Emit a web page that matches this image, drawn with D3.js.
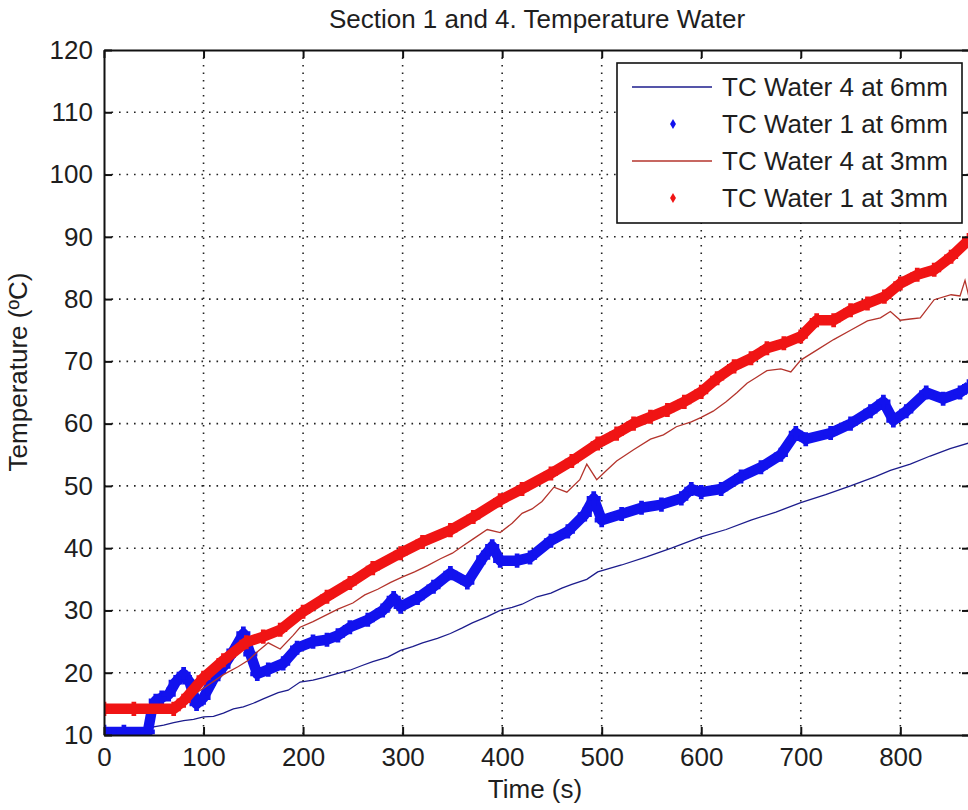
<!DOCTYPE html>
<html>
<head>
<meta charset="utf-8">
<script src="https://cdn.jsdelivr.net/npm/d3@7"></script>
<style>
	html, body { margin: 0; padding: 0; background: #fff; }
	svg { display: block; font-family: "Liberation Sans", Arial, sans-serif; }
	text { fill: #1e1e1e; }
</style>
</head>
<body>
<div id="chart"></div>
<script>
// Values (time in s, temperature in degC)
var xTicks = [0, 100, 200, 300, 400, 500, 600, 700, 800];
var yTicks = [10, 20, 30, 40, 50, 60, 70, 80, 90, 100, 110, 120];

// TC Water 4 at 6mm (thin blue line)
var water4at6mmTime = [0, 20, 45, 50, 60, 70, 80, 90, 100, 110, 120, 130, 140, 150, 160, 175, 185, 197, 210, 220,
	235, 247, 260, 270, 285, 298, 310, 320, 335, 348, 360, 370, 385, 398, 410, 420, 435, 449, 460, 470,
	485, 496, 520, 545, 570, 600, 625, 650, 675, 700, 725, 750, 775, 790, 810, 830, 850, 869];
var water4at6mmTemp = [10.5, 10.5, 10.6, 11.3, 11.6, 12.0, 12.3, 12.5, 12.9, 13.0, 13.5, 14.2, 14.5, 15.1, 15.8, 16.8, 17.2, 18.5, 18.8, 19.2,
	19.9, 20.4, 21.2, 21.8, 22.5, 23.6, 24.2, 24.8, 25.5, 26.3, 27.2, 28.0, 29.0, 30.0, 30.5, 31.0, 32.2, 32.8, 33.6, 34.2,
	35.0, 36.2, 37.3, 38.6, 40.0, 41.8, 43.0, 44.5, 45.8, 47.3, 48.6, 50.0, 51.5, 52.5, 53.5, 54.8, 56.0, 56.9];

// TC Water 1 at 6mm (blue markers)
var water1at6mmTime = [0, 20, 44, 48, 52, 58, 65, 72, 80, 86, 93, 100, 110, 120, 130, 140, 147, 154, 165, 180,
	194, 210, 224, 235, 247, 265, 280, 291, 298, 315, 331, 348, 365, 381, 390, 398, 415, 428, 449, 466,
	483, 492, 500, 520, 540, 560, 580, 590, 600, 620, 640, 660, 680, 695, 705, 730, 750, 770, 783, 793,
	806, 826, 843, 860, 869];
var water1at6mmTemp = [10.5, 10.5, 10.5, 14, 15.5, 16, 16.5, 18.5, 19.8, 18.5, 15, 16, 19, 21, 23.5, 26.3, 23, 19.8, 20.5, 21.5,
	24, 25, 25.3, 26, 27.3, 28.5, 30, 32, 30.6, 32, 33.8, 36, 34.5, 38.5, 40.3, 38, 38, 38.5, 41.2, 42.7,
	45.4, 48, 44.5, 45.5, 46.5, 47, 48, 49.5, 49, 49.5, 51.5, 53, 55, 58.5, 57.5, 58.5, 60, 62, 63.5, 60.5,
	62, 65, 64, 65, 66];

// TC Water 4 at 3mm (thin red line)
var water4at3mmTime = [0, 30, 70, 80, 100, 120, 135, 145, 155, 165, 177, 190, 197, 210, 220, 235, 250, 262, 275, 288,
	300, 312, 325, 338, 350, 360, 371, 385, 398, 410, 420, 430, 440, 452, 465, 478, 485, 495, 505, 515,
	532, 549, 562, 575, 590, 600, 612, 625, 636, 646, 656, 666, 680, 690, 700, 716, 733, 750, 767, 780,
	790, 800, 810, 820, 834, 851, 860, 865, 869];
var water4at3mmTemp = [14, 14, 14, 15.5, 17.5, 19.7, 21, 22, 23.5, 24.8, 23.8, 26, 27.3, 28.2, 29, 30.2, 31.2, 32.5, 33.4, 34.5,
	35.4, 36.2, 37.2, 38.3, 39.2, 40.3, 41.5, 43, 42.5, 44, 45.6, 46.3, 47.5, 49.8, 49, 51, 53.5, 51, 52.5, 54,
	55.8, 57.5, 58.2, 59.5, 60.3, 61, 62, 63.5, 65, 66.5, 67.5, 68.5, 68.8, 68.3, 70.2, 71.8, 73.5, 75, 76.5, 77,
	78, 76.6, 76.8, 77, 79.9, 80.7, 80.5, 83, 80.3];

// TC Water 1 at 3mm (red markers)
var water1at3mmTime = [0, 30, 70, 80, 100, 120, 143, 160, 177, 200, 224, 247, 270, 298, 320, 348, 371, 398, 420, 449,
	470, 496, 515, 532, 549, 566, 583, 600, 616, 633, 650, 666, 683, 700, 716, 733, 750, 767, 784, 800,
	817, 834, 851, 869];
var water1at3mmTemp = [14.2, 14.2, 14.2, 15.5, 19.2, 22, 24.9, 25.8, 26.9, 29.8, 32.2, 34.4, 36.8, 39.2, 41, 42.9, 45, 47.7, 49.5, 52,
	54, 56.8, 58.4, 60, 61.1, 62.2, 63.5, 65.1, 67.3, 69.2, 70.5, 72.1, 72.9, 74, 76.6, 76.6, 78.2, 79.3, 80.4, 82.5,
	83.9, 84.7, 86.8, 89.5];

var seriesNames = ['TC Water 4 at 6mm', 'TC Water 1 at 6mm', 'TC Water 4 at 3mm', 'TC Water 1 at 3mm'];

var W = 968, H = 810;
var plot = {left: 104, top: 50, right: 970, bottom: 735};
var fontSize = 26;

var x = d3.scaleLinear().domain([0, 870]).range([plot.left, plot.right]);
var y = d3.scaleLinear().domain([10, 120]).range([plot.bottom, plot.top]);

function zip(ts, vs) {
	return ts.map(function (t, i) { return [t, vs[i]]; });
}

var series = [
	{name: seriesNames[0], data: zip(water4at6mmTime, water4at6mmTemp), color: '#1c1c8c', thick: false},
	{name: seriesNames[1], data: zip(water1at6mmTime, water1at6mmTemp), color: '#1212ee', thick: true},
	{name: seriesNames[2], data: zip(water4at3mmTime, water4at3mmTemp), color: '#b4342c', thick: false},
	{name: seriesNames[3], data: zip(water1at3mmTime, water1at3mmTemp), color: '#f01414', thick: true}
];

var svg = d3.select('#chart').append('svg')
	.attr('width', W)
	.attr('height', H);

svg.append('rect').attr('width', W).attr('height', H).attr('fill', '#fff');

svg.append('clipPath').attr('id', 'plotClip')
	.append('rect')
	.attr('x', plot.left).attr('y', plot.top)
	.attr('width', plot.right - plot.left).attr('height', plot.bottom - plot.top);

// Dotted grid
var grid = svg.append('g').attr('class', 'grid')
	.attr('stroke', '#222').attr('stroke-width', 1.6).attr('stroke-dasharray', '1.6,5.9');

grid.selectAll('line.gx').data(xTicks.filter(function (d) { return d > 0; }))
	.enter().append('line').attr('class', 'gx')
	.attr('x1', function (d) { return x(d); }).attr('x2', function (d) { return x(d); })
	.attr('y1', plot.top).attr('y2', plot.bottom);

grid.selectAll('line.gy').data(yTicks.filter(function (d) { return d > 10 && d < 120; }))
	.enter().append('line').attr('class', 'gy')
	.attr('y1', function (d) { return y(d); }).attr('y2', function (d) { return y(d); })
	.attr('x1', plot.left).attr('x2', plot.right);

// Data
var line = d3.line()
	.x(function (d) { return x(d[0]); })
	.y(function (d) { return y(d[1]); });

var marks = svg.append('g').attr('clip-path', 'url(#plotClip)');

series.forEach(function (s) {
	if (s.thick) {
		marks.append('path')
			.attr('d', line(s.data))
			.attr('fill', 'none')
			.attr('stroke', s.color)
			.attr('stroke-width', 10.5)
			.attr('stroke-linejoin', 'round');
		marks.append('g').selectAll('path').data(s.data)
			.enter().append('path')
			.attr('transform', function (d) { return 'translate(' + x(d[0]) + ',' + y(d[1]) + ')'; })
			.attr('d', d3.symbol().type(d3.symbolCross).size(110))
			.attr('fill', s.color);
	} else {
		marks.append('path')
			.attr('d', line(s.data))
			.attr('fill', 'none')
			.attr('stroke', s.color)
			.attr('stroke-width', 1.3)
			.attr('stroke-linejoin', 'miter');
	}
});

// Axes (ticks inward on every side)
var tickLen = 8;

svg.append('g')
	.attr('transform', 'translate(0,' + plot.bottom + ')')
	.call(d3.axisBottom(x).tickValues(xTicks).tickSizeInner(-tickLen).tickSizeOuter(0).tickPadding(13));

svg.append('g')
	.attr('transform', 'translate(' + plot.left + ',0)')
	.call(d3.axisLeft(y).tickValues(yTicks).tickSizeInner(-tickLen).tickSizeOuter(0).tickPadding(11));

svg.append('g')
	.attr('transform', 'translate(0,' + plot.top + ')')
	.call(d3.axisTop(x).tickValues(xTicks).tickSizeInner(-tickLen).tickSizeOuter(0).tickFormat(''));

svg.append('g')
	.attr('transform', 'translate(' + plot.right + ',0)')
	.call(d3.axisRight(y).tickValues(yTicks).tickSizeInner(-tickLen).tickSizeOuter(0).tickFormat(''));

svg.selectAll('.domain').attr('stroke', '#111').attr('stroke-width', 2);
svg.selectAll('.tick line').attr('stroke', '#111').attr('stroke-width', 2);
svg.selectAll('.tick text')
	.attr('font-size', fontSize)
	.attr('font-family', '"Liberation Sans", Arial, sans-serif')
	.attr('fill', '#1e1e1e');

// Titles
svg.append('text')
	.attr('x', 537).attr('y', 28)
	.attr('text-anchor', 'middle')
	.attr('font-size', fontSize)
	.text('Section 1 and 4. Temperature Water');

svg.append('text')
	.attr('x', 535).attr('y', 798)
	.attr('text-anchor', 'middle')
	.attr('font-size', fontSize)
	.text('Time (s)');

svg.append('text')
	.attr('transform', 'translate(27,372) rotate(-90)')
	.attr('text-anchor', 'middle')
	.attr('font-size', fontSize)
	.text('Temperature (\u00baC)');

// Legend
var legend = svg.append('g').attr('class', 'legend');

legend.append('rect')
	.attr('x', 617).attr('y', 63)
	.attr('width', 345).attr('height', 160)
	.attr('fill', '#fff')
	.attr('stroke', '#111')
	.attr('stroke-width', 1.6);

var rows = legend.selectAll('g.row').data(series)
	.enter().append('g').attr('class', 'row')
	.attr('transform', function (d, i) { return 'translate(0,' + (87 + i * 37) + ')'; });

rows.each(function (d) {
	var g = d3.select(this);
	if (d.thick) {
		g.append('path')
			.attr('transform', 'translate(673,0)')
			.attr('d', d3.symbol().type(d3.symbolDiamond).size(30))
			.attr('fill', d.color);
	} else {
		g.append('line')
			.attr('x1', 632).attr('x2', 712)
			.attr('y1', 0).attr('y2', 0)
			.attr('stroke', d.color)
			.attr('stroke-width', 1.5);
	}
	g.append('text')
		.attr('x', 722).attr('y', 0)
		.attr('dy', '0.36em')
		.attr('font-size', fontSize)
		.text(d.name);
});
</script>
</body>
</html>
